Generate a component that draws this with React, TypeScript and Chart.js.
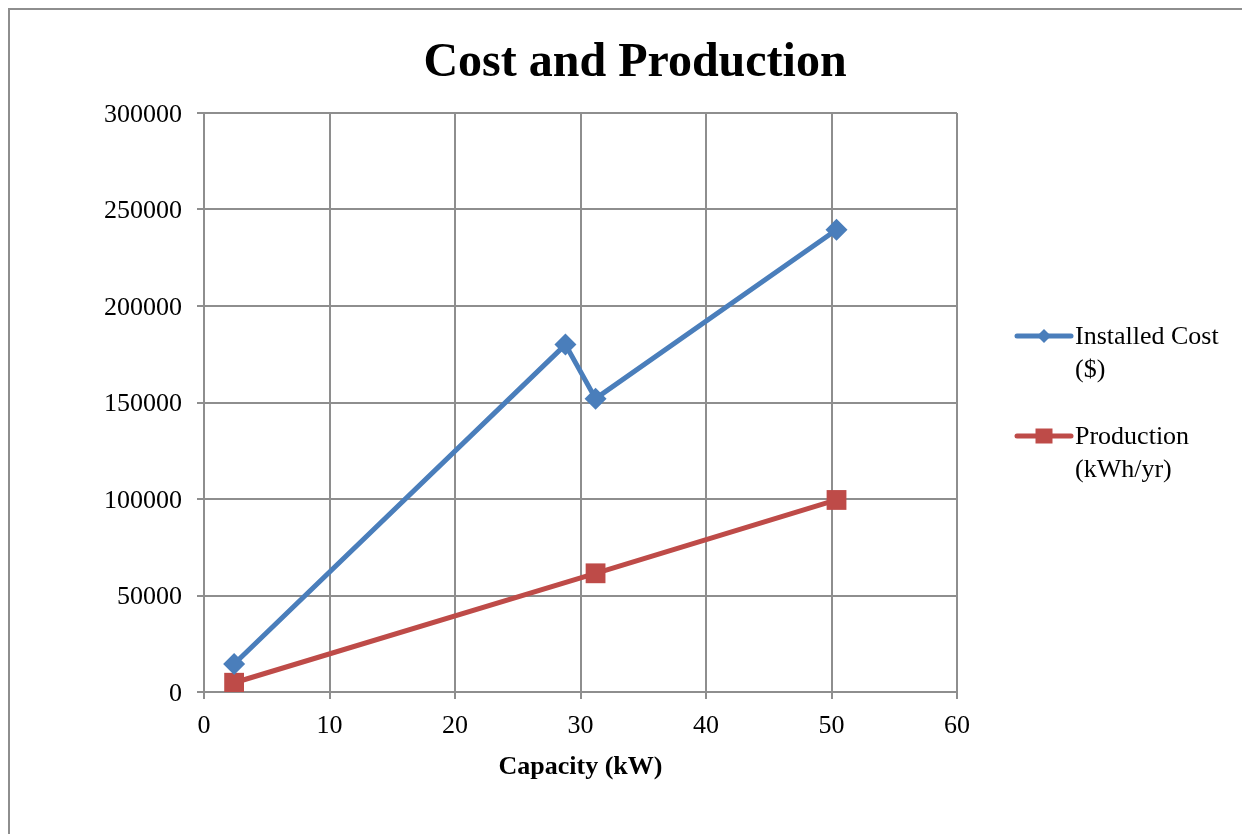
import React, { useEffect, useRef } from "react";
import { Chart, registerables } from "chart.js";

Chart.register(...registerables);

// Capacity (kW) of each installation
const costCapacity = [2.4, 28.8, 31.2, 50.4];
const installedCost = [14500, 180000, 152000, 239500];

const productionCapacity = [2.4, 31.2, 50.4];
const production = [4800, 61500, 99500];

const seriesNames = [["Installed Cost", "($)"], ["Production", "(kWh/yr)"]];
const chartTitle = "Cost and Production";
const xAxisTitle = "Capacity (kW)";

const BLUE = "#4a7ebb";
const RED = "#be4b48";
const GRID = "#8e8e8e";
const FONT = "'Liberation Serif', 'Times New Roman', serif";

const W = 1240;
const H = 824;

const decorations = {
  id: "decorations",
  afterDraw(chart: Chart) {
    const ctx = chart.ctx;
    ctx.save();
    // title
    ctx.fillStyle = "#000";
    ctx.font = `bold 48px ${FONT}`;
    ctx.textAlign = "center";
    ctx.textBaseline = "alphabetic";
    ctx.fillText(chartTitle, 625, 66);

    // legend
    const entries = [
      { color: BLUE, style: "diamond", y: 326, lines: seriesNames[0] },
      { color: RED, style: "square", y: 426, lines: seriesNames[1] },
    ];
    ctx.font = `26px ${FONT}`;
    ctx.textAlign = "left";
    ctx.textBaseline = "middle";
    for (const e of entries) {
      ctx.strokeStyle = e.color;
      ctx.lineWidth = 5;
      ctx.lineCap = "round";
      ctx.beginPath();
      ctx.moveTo(1007, e.y);
      ctx.lineTo(1061, e.y);
      ctx.stroke();
      ctx.fillStyle = e.color;
      ctx.beginPath();
      if (e.style === "diamond") {
        const r = 7;
        ctx.moveTo(1034, e.y - r);
        ctx.lineTo(1034 + r, e.y);
        ctx.lineTo(1034, e.y + r);
        ctx.lineTo(1034 - r, e.y);
        ctx.closePath();
      } else {
        ctx.rect(1034 - 8.5, e.y - 7.5, 17, 15);
      }
      ctx.fill();
      ctx.fillStyle = "#000";
      e.lines.forEach((t, i) => ctx.fillText(t, 1065, e.y + 1.5 + i * 33));
    }
    ctx.restore();
  },
};

export default function App() {
  const ref = useRef<HTMLCanvasElement | null>(null);

  useEffect(() => {
    document.body.style.overflow = "hidden";
    const canvas = ref.current;
    if (!canvas) return;
    const chart = new Chart(canvas, {
      type: "scatter",
      data: {
        datasets: [
          {
            label: seriesNames[0].join(" "),
            data: costCapacity.map((x, i) => ({ x, y: installedCost[i] })),
            showLine: true,
            borderColor: BLUE,
            backgroundColor: BLUE,
            borderWidth: 5,
            pointStyle: "rectRot",
            pointRadius: 11,
            pointBorderWidth: 0,
            pointBackgroundColor: BLUE,
          },
          {
            label: seriesNames[1].join(" "),
            data: productionCapacity.map((x, i) => ({ x, y: production[i] })),
            showLine: true,
            borderColor: RED,
            backgroundColor: RED,
            borderWidth: 5,
            pointStyle: "rect",
            pointRadius: 14,
            pointBorderWidth: 0,
            pointBackgroundColor: RED,
          },
        ],
      },
      options: {
        responsive: false,
        animation: false,
        devicePixelRatio: 1,
        layout: { padding: { left: 0, right: 293, top: 103, bottom: 0 } },
        plugins: {
          legend: { display: false },
          title: { display: false },
          tooltip: { enabled: false },
        },
        scales: {
          x: {
            type: "linear",
            min: 0,
            max: 60,
            ticks: {
              stepSize: 10,
              color: "#000",
              font: { family: FONT, size: 26 },
              padding: 12,
              maxRotation: 0,
            },
            grid: { color: GRID, lineWidth: 2, tickLength: 7, drawTicks: true },
            border: { color: GRID, width: 2 },
            title: {
              display: true,
              text: xAxisTitle,
              color: "#000",
              font: { family: FONT, size: 26, weight: "bold" },
              padding: { top: 0, bottom: 51 },
            },
            afterFit(scale: any) {
              scale.height = 142;
            },
          },
          y: {
            type: "linear",
            min: 0,
            max: 300000,
            ticks: {
              stepSize: 50000,
              color: "#000",
              font: { family: FONT, size: 26 },
              padding: 15,
              callback: (v: any) => String(v),
            },
            grid: { color: GRID, lineWidth: 2, tickLength: 7, drawTicks: true },
            border: { color: GRID, width: 2 },
            afterFit(scale: any) {
              scale.width = 194;
            },
          },
        },
      },
      plugins: [
        decorations,
        {
          // nudge y tick labels down to sit centred on their grid lines
          id: "tickNudge",
          beforeDraw(chart: any) {
            const y = chart.scales.y;
            if (y && !y._nudged) {
              const orig = y._computeLabelItems.bind(y);
              y._computeLabelItems = (area: any) =>
                orig(area).map((it: any) => ({
                  ...it,
                  options: { ...it.options, translation: [it.options.translation[0], it.options.translation[1] + 2] },
                }));
              y._nudged = true;
              y._labelItems = null;
            }
          },
        },
      ],
    });
    return () => chart.destroy();
  }, []);

  return (
    <div
      style={{
        width: 1242,
        height: 826,
        boxSizing: "border-box",
        borderLeft: `2px solid ${GRID}`,
        borderTop: `2px solid ${GRID}`,
        background: "#fff",
      }}
    >
      <canvas ref={ref} width={W} height={H} style={{ display: "block", width: W, height: H }} />
    </div>
  );
}
